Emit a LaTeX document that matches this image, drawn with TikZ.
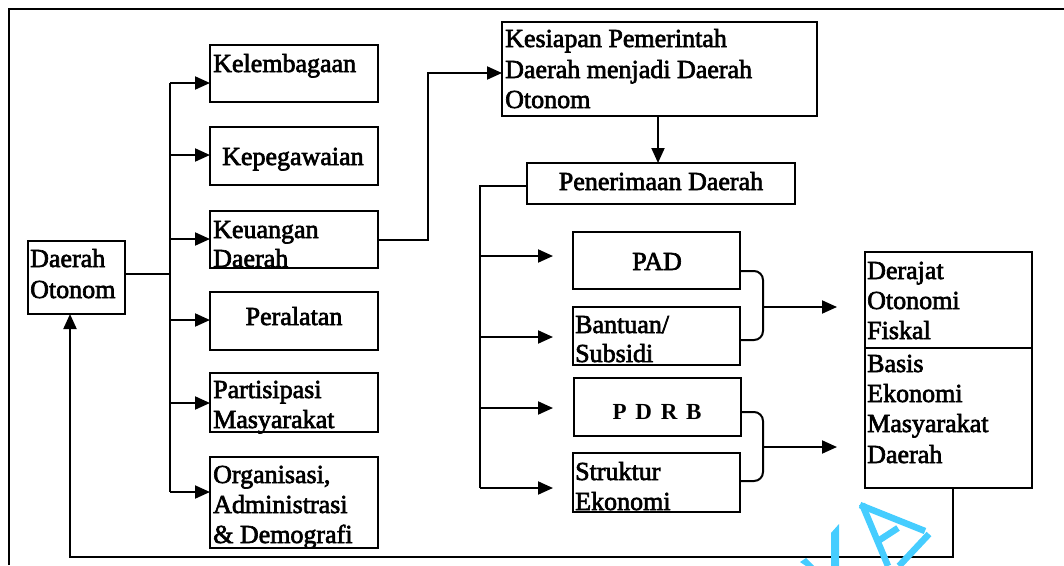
\documentclass[tikz,border=0pt]{standalone}
\usepackage{fontspec}
\setmainfont{Liberation Serif}
\newfontfamily\mf{Liberation Serif}[FakeBold=2.5]
\newfontfamily\mfb{Liberation Serif Bold}
\usetikzlibrary{arrows.meta}
\definecolor{wm}{RGB}{70,205,255}
\begin{document}
\begin{tikzpicture}[x=1pt,y=-1pt,
  box/.style={draw,line width=2pt,inner sep=0pt,outer sep=0pt,anchor=north west},
  txt/.style={inner sep=0pt,anchor=base west,font=\mf\fontsize{26pt}{31pt}\selectfont},
  ctxt/.style={inner sep=0pt,anchor=base,font=\mf\fontsize{26pt}{31pt}\selectfont},
  ln/.style={line width=2pt},
  arr/.style={line width=2pt,-{Triangle[length=15pt,width=13pt]}}]
\useasboundingbox (0,0) rectangle (1064,565);
% outer frame
\draw[line width=2.6pt] (9,565) -- (9,9) -- (1064,9);
% boxes
\node[box,minimum width=97pt,minimum height=73pt] (oto) at (28,241) {};
\node[box,minimum width=168pt,minimum height=57pt] (kel) at (210,45) {};
\node[box,minimum width=168pt,minimum height=58pt] (kep) at (210,127) {};
\node[box,minimum width=168pt,minimum height=57pt] (keu) at (210,211) {};
\node[box,minimum width=168pt,minimum height=58pt] (per) at (210,292) {};
\node[box,minimum width=168pt,minimum height=59pt] (par) at (210,373) {};
\node[box,minimum width=168pt,minimum height=91pt] (org) at (210,457) {};
\node[box,minimum width=315pt,minimum height=94pt] (kes) at (502,22) {};
\node[box,minimum width=268pt,minimum height=41pt] (pen) at (527,163) {};
\node[box,minimum width=167pt,minimum height=57pt] (pad) at (573,232) {};
\node[box,minimum width=167pt,minimum height=58pt] (ban) at (573,307) {};
\node[box,minimum width=167pt,minimum height=58pt] (pdrb) at (574,378) {};
\node[box,minimum width=167pt,minimum height=59pt] (str) at (573,453) {};
\node[box,minimum width=167pt,minimum height=96pt] (der) at (865,252) {};
\node[box,minimum width=167pt,minimum height=140pt] (bas) at (865,348) {};
% texts
\node[txt] (t1a) at (30,267) {Daerah};
\node[txt] (t1b) at (30,298) {Otonom};
\node[txt] (t2) at (213,72) {Kelembagaan};
\node[txt] (t3) at (222,165) {Kepegawaian};
\node[txt] (t4a) at (213,238) {Keuangan};
\node[txt] (t4b) at (213,267) {Daerah};
\node[ctxt] (t5) at (294,325) {Peralatan};
\node[txt] (t6a) at (213,398) {Partisipasi};
\node[txt] (t6b) at (213,428) {Masyarakat};
\node[txt] (t7a) at (213,483) {Organisasi,};
\node[txt] (t7b) at (213,513) {Administrasi};
\node[txt] (t7c) at (213,543) {\&~Demografi};
\node[txt] (t8a) at (505,47) {Kesiapan Pemerintah};
\node[txt] (t8b) at (505,78) {Daerah menjadi Daerah};
\node[txt] (t8c) at (505,108) {Otonom};
\node[ctxt] (t9) at (661,190) {Penerimaan Daerah};
\node[ctxt] (t10) at (657,270) {PAD};
\node[txt] (t11a) at (575,333) {Bantuan/};
\node[txt] (t11b) at (575,362) {Subsidi};
\node[inner sep=0pt,anchor=base,font=\mfb\fontsize{23pt}{28pt}\selectfont] (t12) at (657,419) {\spaceskip=8.8pt P D R B};
\node[txt] (t13a) at (575,480) {Struktur};
\node[txt] (t13b) at (575,510) {Ekonomi};
\node[txt] (t14a) at (867,279) {Derajat};
\node[txt] (t14b) at (867,309) {Otonomi};
\node[txt] (t14c) at (867,339) {Fiskal};
\node[txt] (t15a) at (867,372) {Basis};
\node[txt] (t15b) at (867,402) {Ekonomi};
\node[txt] (t15c) at (867,432) {Masyarakat};
\node[txt] (t15d) at (867,463) {Daerah};
% left bus
\coordinate (b0) at (170,274);
\coordinate (b1) at (170,83);
\coordinate (b2) at (170,155);
\coordinate (b3) at (170,239);
\coordinate (b4) at (170,320);
\coordinate (b5) at (170,403);
\coordinate (b6) at (170,492);
\draw[ln] ([yshift=3.5pt]oto.east) -- (b0);
\draw[ln] (b1) -- (b6);
\draw[arr] (b1) -- (b1 -| kel.west);
\draw[arr] (b2) -- (b2 -| kep.west);
\draw[arr] (b3) -- (b3 -| keu.west);
\draw[arr] (b4) -- (b4 -| per.west);
\draw[arr] (b5) -- (b5 -| par.west);
\draw[arr] (b6) -- (b6 -| org.west);
% keuangan to kesiapan
\coordinate (kin) at (428,73);
\draw[arr] (keu.east) -| (kin) -- (kin -| kes.west);
% kesiapan to penerimaan
\coordinate (kp) at (658,0);
\draw[arr] (kes.south -| kp) -- (pen.north -| kp);
% penerimaan bus
\coordinate (p0) at (480,186);
\coordinate (p1) at (480,256);
\coordinate (p2) at (480,337);
\coordinate (p3) at (480,408);
\coordinate (p4) at (480,488);
\coordinate (q1) at (553,256);
\coordinate (q2) at (553,337);
\coordinate (q3) at (553,408);
\coordinate (q4) at (553,488);
\draw[ln] (pen.west |- p0) -- (p0) -- (p4);
\draw[arr] (p1) -- (q1);
\draw[arr] (p2) -- (q2);
\draw[arr] (p3) -- (q3);
\draw[arr] (p4) -- (q4);
% brackets
\draw[ln,rounded corners=9pt] (pad.east |- 0,271) -| (763,340) -- (ban.east |- 0,340);
\draw[ln,rounded corners=9pt] (pdrb.east |- 0,412) -| (763,481) -- (str.east |- 0,481);
\coordinate (r1) at (763,307);
\coordinate (r2) at (763,447);
\coordinate (s1) at (837,307);
\coordinate (s2) at (837,447);
\draw[arr] (r1) -- (s1);
\draw[arr] (r2) -- (s2);
% feedback
\coordinate (f1) at (953,557);
\coordinate (f2) at (70,557);
\draw[arr] (bas.south -| f1) -- (f1) -- (f2) -- (oto.south -| f2);
% watermark
\begin{scope}[wm,line width=6.5pt]
\draw (862,504) -- (888,566);
\draw (860,505) -- (925,531);
\draw (878,541) -- (898,528);
\draw (929,534) -- (899,566);
\fill (831,533) -- (839,524) -- (839,566) -- (831,566) -- cycle;
\fill (800,562) -- (806,558) -- (814,566) -- (806,566) -- cycle;
\end{scope}
\end{tikzpicture}
\end{document}
